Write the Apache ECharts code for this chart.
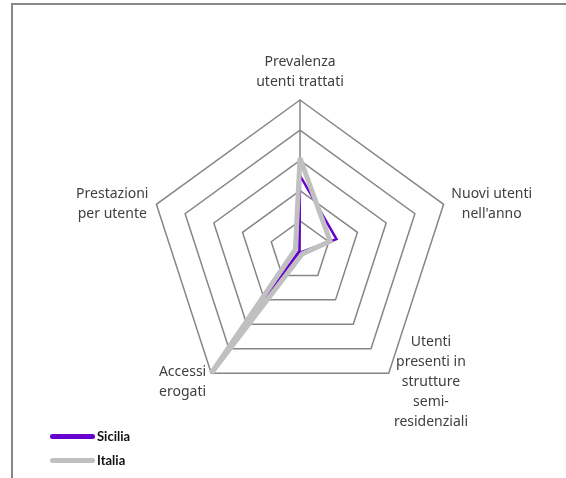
<!DOCTYPE html>
<html lang="it">
<head>
<meta charset="UTF-8">
<title>Radar Sicilia / Italia</title>
<style>
  html, body { margin: 0; padding: 0; background: #fff; }
  #main { position: absolute; left: 0; top: 0; width: 566px; height: 478px; }
  /* bordo dell'area grafico (tagliato) */
  #frame { position: absolute; left: 11px; top: 3px; width: 560px; height: 480px;
           border-top: 2px solid #878787; border-left: 2px solid #878787; pointer-events: none; }
</style>
</head>
<body>
<div id="main"></div>
<div id="frame"></div>
<script src="https://cdn.jsdelivr.net/npm/echarts@6/dist/echarts.min.js"></script>
<script>
// indicatori in senso antiorario a partire dall'alto (ordine usato da ECharts)
var indicatori = [
  'Prevalenza\nutenti trattati',
  'Prestazioni\nper utente',
  'Accessi\nerogati',
  'Utenti\npresenti in\nstrutture\nsemi-\nresidenziali',
  'Nuovi utenti\nnell\'anno'
];
var valoreMax = 5;

var sicilia = [2.5, 0.02, 2.05, 0.05, 1.27];
var italia  = [3.08, 0.16, 5.0, 0.12, 1.05];

var nomiSerie = ['Sicilia', 'Italia'];
var coloriSerie = ['#6600cc', '#c0c0c0'];
var spessori = [2.5, 5];

var fontNomi = '14px "Noto Sans"';
var myChart = echarts.init(document.getElementById('main'));

// misura la riga piu' lunga per centrare le righe tra loro
var ctx = document.createElement('canvas').getContext('2d');
ctx.font = fontNomi;
var rich = {};
var indicator = indicatori.map(function (n, i) {
  var w = Math.max.apply(null, n.split('\n').map(function (r) { return ctx.measureText(r).width; }));
  rich['w' + i] = { width: Math.ceil(w), align: 'center', lineHeight: 20,
                    fontSize: 14, color: '#404040', fontFamily: 'Noto Sans' };
  var ind = { name: n, max: valoreMax, min: 0 };
  // solo il primo asse ha la linea (come in Excel)
  if (i > 0) ind.axisLine = { show: false };
  return ind;
});

var option = {
  animation: false,
  backgroundColor: '#fff',
  legend: {
    orient: 'vertical',
    left: 45,
    top: 425,
    itemWidth: 45,
    itemHeight: 5,
    itemGap: 11,
    icon: 'path://M2.5,0H42.5A2.5,2.5,0,0,1,42.5,5H2.5A2.5,2.5,0,0,1,2.5,0Z',
    textStyle: { fontFamily: 'Lato', fontWeight: 'bold', fontSize: 13, color: '#111', padding: [0, 0, 0, -3] },
    data: nomiSerie
  },
  radar: {
    center: [300, 251],
    radius: 151,
    startAngle: 90,
    shape: 'polygon',
    splitNumber: 5,
    nameGap: 8,
    axisName: {
      fontFamily: 'Noto Sans',
      fontSize: 14,
      color: '#404040',
      lineHeight: 20,
      padding: [4, 0, 0, 0],
      formatter: function (name) {
        var i = indicatori.indexOf(name);
        return name.split('\n').map(function (r) { return '{w' + i + '|' + r + '}'; }).join('\n');
      },
      rich: rich
    },
    axisLine: { show: true, lineStyle: { color: '#868686', width: 1.5 } },
    splitLine: { lineStyle: { color: '#868686', width: 1.5 } },
    splitArea: { show: false },
    indicator: indicator
  },
  series: [{
    type: 'radar',
    symbol: 'none',
    data: [sicilia, italia].map(function (v, k) {
      return {
        name: nomiSerie[k],
        value: v,
        itemStyle: { color: coloriSerie[k] },
        lineStyle: { color: coloriSerie[k], width: spessori[k], join: 'miter' }
      };
    })
  }]
};

myChart.setOption(option);
</script>
</body>
</html>
